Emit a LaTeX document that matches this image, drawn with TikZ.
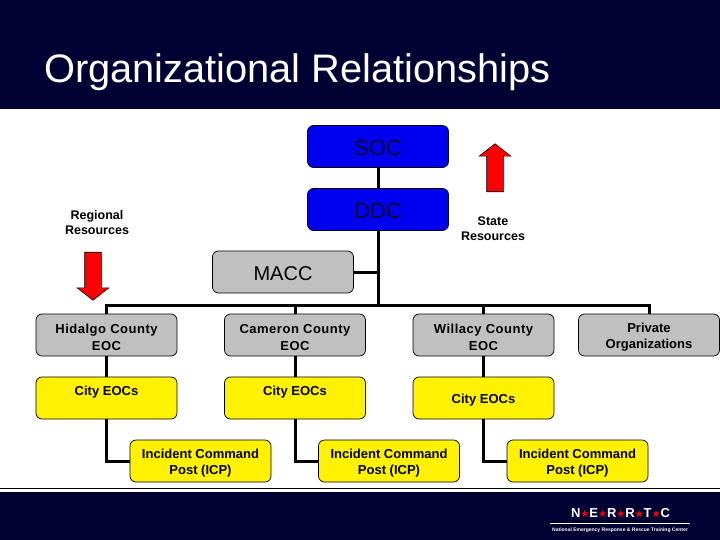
\documentclass[tikz,border=0pt]{standalone}
\usepackage{fontspec}
\setmainfont{Liberation Sans}
\newfontfamily\starfont{DejaVu Sans}
\newfontfamily\widefont[LetterSpace=4]{Liberation Sans}
\usepackage{xcolor}
\definecolor{navyband}{HTML}{000033}
\definecolor{socblue}{HTML}{0000F0}
\definecolor{eocgrey}{HTML}{C0C0C0}
\usetikzlibrary{positioning, shapes.arrows}
\newcommand{\logostar}{\textcolor{red}{\starfont\fontsize{10}{10}\selectfont ★}}
\newcommand{\lineup}{\rule{0pt}{14pt}}

\begin{document}
\begin{tikzpicture}[x=1pt, y=-1pt,
    unitbox/.style={draw=black, line width=0.7pt, rectangle, rounded corners=6pt, minimum width=141pt, minimum height=42pt, inner sep=0pt, outer sep=0pt, align=center},
    stateunit/.style={unitbox, fill=socblue, text=navyband, font=\fontsize{22}{26}\selectfont, execute at begin node=\rule{0pt}{19pt}},
    macc/.style={unitbox, fill=eocgrey, font=\fontsize{20}{24}\selectfont, execute at begin node=\rule{0pt}{18pt}},
    county/.style={unitbox, fill=eocgrey, font=\fontsize{13}{16.5}\bfseries\selectfont},
    widecounty/.style={county, font=\widefont\fontsize{13}{16.5}\bfseries\selectfont},
    city/.style={unitbox, fill=yellow, font=\fontsize{13}{16.5}\bfseries\selectfont},
    edge/.style={line width=3pt, black},
    varlabel/.style={align=center, inner sep=0pt, font=\fontsize{12.5}{15}\bfseries\selectfont},
    redarrow/.style={draw=black, line width=0.6pt, fill=red, single arrow, single arrow head indent=0pt, single arrow tip angle=104, inner sep=0pt, outer sep=0pt, single arrow head extend=7.5pt, minimum height=48pt}
]
\useasboundingbox (0,0) rectangle (720,540);

% Bands
\fill[navyband] (0,0) rectangle (720,109);
\fill[navyband] (0,492) rectangle (720,540);
\draw[black, line width=0.8pt] (0,488) -- (720,488);

% Title
\node[anchor=west, inner sep=0pt, text=white, font=\fontsize{39.8}{46}\selectfont] (title) at (44,72) {Organizational Relationships};

% Nodes
\node[stateunit] (soc) at (378,146.5) {SOC};
\node[stateunit, below=21pt of soc] (ddc) {DDC};
\node[macc] (maccbox) at (283,272) {MACC};
\node[widecounty] (hidalgo) at (106.5,335) {\lineup Hidalgo County\\EOC};
\node[widecounty, right=47.5pt of hidalgo] (cameron) {\lineup Cameron County\\EOC};
\node[widecounty, right=47.5pt of cameron] (willacy) {\lineup Willacy County\\EOC};
\node[county, right=24.5pt of willacy] (private) {\lineup Private\\Organizations};
\node[city, below=21pt of hidalgo] (city0) {\lineup City EOCs\\[2pt]~};
\node[city, below=21pt of cameron] (city1) {\lineup City EOCs\\[2pt]~};
\node[city, below=21pt of willacy] (city2) {\lineup City EOCs};
\node[city, below right=21pt and -47pt of city0] (icp0) {\lineup Incident Command\\Post (ICP)};
\node[city, below right=21pt and -47pt of city1] (icp1) {\lineup Incident Command\\Post (ICP)};
\node[city, below right=21pt and -47pt of city2] (icp2) {\lineup Incident Command\\Post (ICP)};
\coordinate (bus) at (378,305);

% Edges
\draw[edge] (soc.south) -- (ddc.north);
\draw[edge] (ddc.south) -- (bus);
\draw[edge] (maccbox.east) -- (maccbox.east -| bus);
\draw[edge] (hidalgo.north) |- (bus) -| (private.north);
\draw[edge] (cameron.north) -- (cameron.north |- bus);
\draw[edge] (willacy.north) -- (willacy.north |- bus);
\draw[edge] (hidalgo.south) -- (city0.north);
\draw[edge] (cameron.south) -- (city1.north);
\draw[edge] (willacy.south) -- (city2.north);
\draw[edge] (city0.south) |- (icp0.west);
\draw[edge] (city1.south) |- (icp1.west);
\draw[edge] (city2.south) |- (icp2.west);

% Resources
\node[varlabel] (regional) at (97,222.5) {Regional\\Resources};
\node[varlabel] (state) at (493,228.5) {State\\Resources};
\node[redarrow, shape border rotate=270] (regionalarrow) at (93,273) {\rule{16pt}{0pt}};
\node[redarrow, shape border rotate=90] (statearrow) at (495,171) {\rule{16pt}{0pt}};

% Logo
\node[inner sep=0pt, text=white, font=\fontsize{13}{16}\bfseries\selectfont] (logo) at (620.5,513) {N\logostar E\logostar R\logostar R\logostar T\logostar C};
\coordinate (ruleleft) at (550,523);
\coordinate (ruleright) at (690,523);
\draw[white, line width=0.7pt] (ruleleft) -- (ruleright);
\node[inner sep=0pt, text=white, font=\fontsize{5}{6}\bfseries\selectfont] (centre) at (620,530) {National Emergency Response \& Rescue Training Center};

\end{tikzpicture}
\end{document}
